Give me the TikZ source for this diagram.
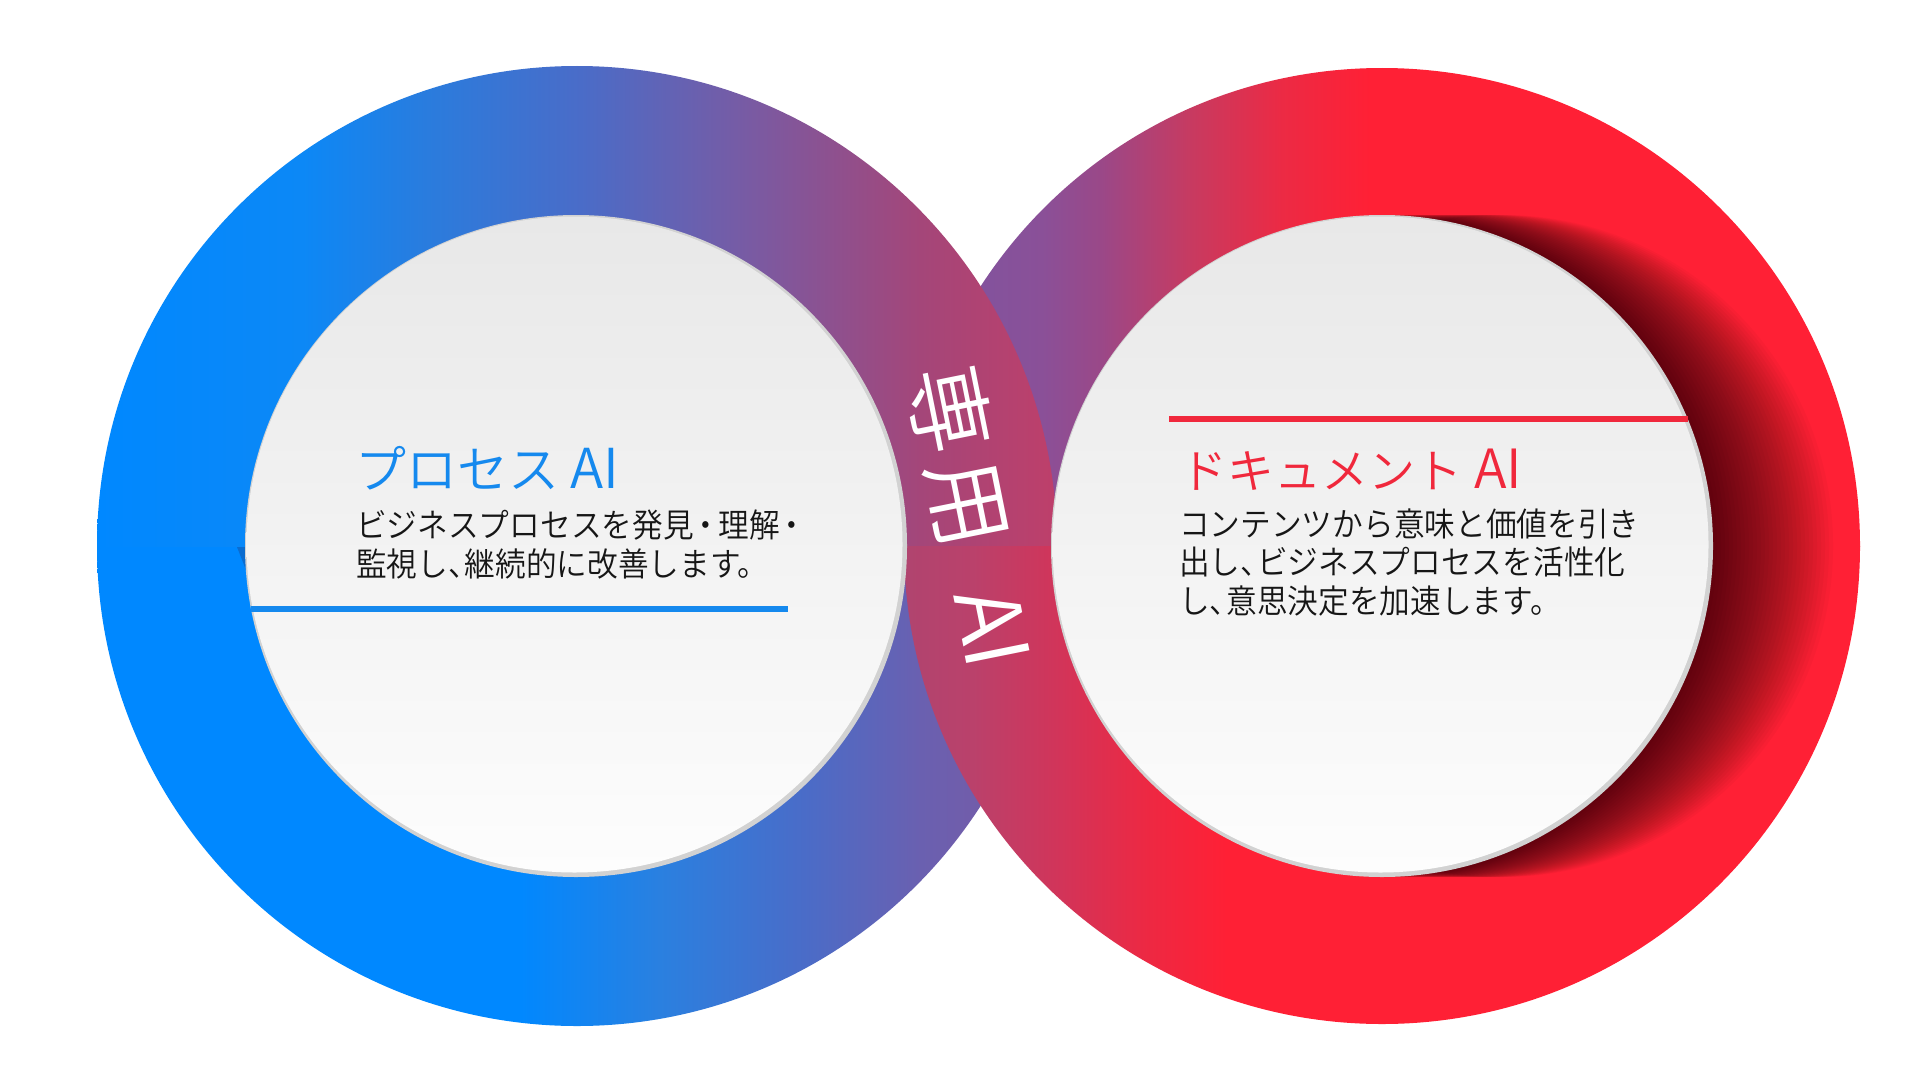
\documentclass[tikz,border=0pt]{standalone}
\usepackage{fontspec}
\IfFontExistsTF{Noto Sans CJK JP DemiLight}
  {\newfontfamily\jp{Noto Sans CJK JP DemiLight}
   \newfontfamily\jpn[FakeStretch=0.93]{Noto Sans CJK JP DemiLight}}
  {\newfontfamily\jp{Noto Sans CJK JP}
   \newfontfamily\jpn[FakeStretch=0.93]{Noto Sans CJK JP}}
\newcommand\jpcomma{\makebox[0.5em][l]{、}}
\newcommand\jpdot{\makebox[0.75em][c]{・}}
\definecolor{lta}{HTML}{0088FF}
\definecolor{ltb}{HTML}{0C88F6}
\definecolor{ltc}{HTML}{2C7BDC}
\definecolor{ltd}{HTML}{4A6CC8}
\definecolor{lte}{HTML}{7A5AA2}
\definecolor{ltf}{HTML}{A44679}
\definecolor{ltg}{HTML}{BE3F6A}
\definecolor{lbc}{HTML}{2A80E0}
\definecolor{lbd}{HTML}{4A6CC8}
\definecolor{lbe}{HTML}{6A60B0}
\definecolor{lbf}{HTML}{7C58A2}
\definecolor{rta}{HTML}{7A56A2}
\definecolor{rtb}{HTML}{8A5098}
\definecolor{rtc}{HTML}{9A4888}
\definecolor{rtd}{HTML}{C83A60}
\definecolor{rte}{HTML}{EC2A44}
\definecolor{redfull}{HTML}{FF2035}
\definecolor{rba}{HTML}{B0446F}
\definecolor{rbb}{HTML}{BA416B}
\definecolor{rbc}{HTML}{D23459}
\definecolor{rbd}{HTML}{EE2842}
\definecolor{rimgray}{HTML}{D2D2D2}
\definecolor{facetop}{HTML}{E8E8E8}
\definecolor{facebot}{HTML}{FDFDFD}
\definecolor{blueT}{HTML}{1589EE}
\definecolor{redT}{HTML}{F0283C}
\definecolor{bodyc}{HTML}{161616}
\definecolor{notchc}{HTML}{0A6CD0}
\pgfdeclarehorizontalshading{ltshade}{100bp}{color(0bp)=(lta); color(25bp)=(lta); color(35.7bp)=(ltb); color(42.7bp)=(ltc); color(50.2bp)=(ltd); color(59.2bp)=(lte); color(67.9bp)=(ltf); color(75bp)=(ltg); color(100bp)=(ltg)}
\pgfdeclarehorizontalshading{lbshade}{100bp}{color(0bp)=(lta); color(46.9bp)=(lta); color(54.3bp)=(lbc); color(61.8bp)=(lbd); color(67.9bp)=(lbe); color(75bp)=(lbf); color(100bp)=(lbf)}
\pgfdeclarehorizontalshading{rtshade}{100bp}{color(0bp)=(rta); color(25bp)=(rta); color(32.2bp)=(rtb); color(35.3bp)=(rtc); color(40.1bp)=(rtd); color(44.8bp)=(rte); color(49.4bp)=(redfull); color(100bp)=(redfull)}
\pgfdeclarehorizontalshading{rbshade}{100bp}{color(0bp)=(rba); color(25bp)=(rba); color(28.6bp)=(rbb); color(33.2bp)=(rbc); color(37.9bp)=(rbd); color(41.9bp)=(redfull); color(100bp)=(redfull)}
\begin{document}
\begin{tikzpicture}[x=1pt,y=-1pt,
  ttlL/.style={inner sep=0pt, anchor=base west, text=blueT, font=\jp\fontsize{51}{54}\selectfont},
  ttlR/.style={inner sep=0pt, anchor=base west, text=redT, font=\jp\fontsize{47}{52}\selectfont},
  bodytxt/.style={inner sep=0pt, anchor=base west, text=bodyc, font=\jpn\fontsize{33}{38}\selectfont},
  midtxt/.style={inner sep=0pt, text=white, font=\jp\fontsize{88}{90}\selectfont, rotate=-78.6},
  rim/.style={fill=rimgray},
  face/.style={top color=facetop, bottom color=facebot},
  bluerule/.style={draw=blueT, line width=6pt},
  redrule/.style={draw=redT, line width=5.5pt}]
\useasboundingbox (0,0) rectangle (1921,1081);
\fill[white] (0,0) rectangle (1921,1081);
\coordinate (L) at (577,546);
\coordinate (R) at (1382,546);
\coordinate (LD) at (576,546);
\coordinate (RD) at (1382,546);
% left ring, lower half
\begin{scope}
  \clip (0,546) rectangle (1921,1081);
  \shade[shading=lbshade] (L) circle[radius=480pt];
\end{scope}
% right ring, upper half
\begin{scope}
  \clip (0,0) rectangle (1921,546);
  \shade[shading=rtshade] (R) circle[radius=478pt];
\end{scope}
% left ring, upper half (in front)
\begin{scope}
  \clip (0,0) rectangle (1921,546);
  \shade[shading=ltshade] (L) circle[radius=480pt];
\end{scope}
% right ring, lower half (in front)
\begin{scope}
  \clip (0,546) rectangle (1921,1081);
  \shade[shading=rbshade] (R) circle[radius=478pt];
\end{scope}
% small notch on left ring
\fill[notchc] (237,547) -- (246,547) -- (246,570) -- cycle;
% shadow of right disc
\begin{scope}
  \clip (R) circle[radius=478pt];
  \foreach \i in {1,...,30}
    \fill[black, opacity=0.028] ([xshift=\i*4pt]RD) circle[radius=331pt];
\end{scope}
% discs
\fill[rim] (LD) circle[radius=331pt];
\shade[face] ([shift={(-1.5,-1.5)}]LD) circle[radius=328pt];
\fill[rim] (RD) circle[radius=331pt];
\shade[face] ([shift={(-1.5,-1.5)}]RD) circle[radius=328pt];
% rules
\coordinate (bl1) at (251,609);
\coordinate (bl2) at (788,609);
\draw[bluerule] (bl1) -- (bl2);
\coordinate (rl1) at (1169,419);
\coordinate (rl2) at (1688,419);
\draw[redrule] (rl1) -- (rl2);
% texts left
\node[ttlL] (lt) at (355,488) {プロセス\hspace{11pt}{\fontsize{55}{58}\selectfont AI}};
\node[bodytxt] (lb1) at (356,537) {ビジネスプロセスを発見\jpdot 理解\jpdot};
\node[bodytxt] (lb2) at (356,576) {監視し\jpcomma 継続的に改善します。};
% texts right
\node[ttlR] (rt) at (1180,488) {ドキュメント\hspace{12pt}{\fontsize{54}{58}\selectfont AI}};
\node[bodytxt] (rb1) at (1179,536) {コンテンツから意味と価値を引き};
\node[bodytxt] (rb2) at (1179,574.5) {出し\jpcomma ビジネスプロセスを活性化};
\node[bodytxt] (rb3) at (1179,613) {し\jpcomma 意思決定を加速します。};
% middle label
\node[midtxt] (mid) at (971,516) {専\hspace{8pt}用\hspace{44pt}AI};
\end{tikzpicture}
\end{document}
